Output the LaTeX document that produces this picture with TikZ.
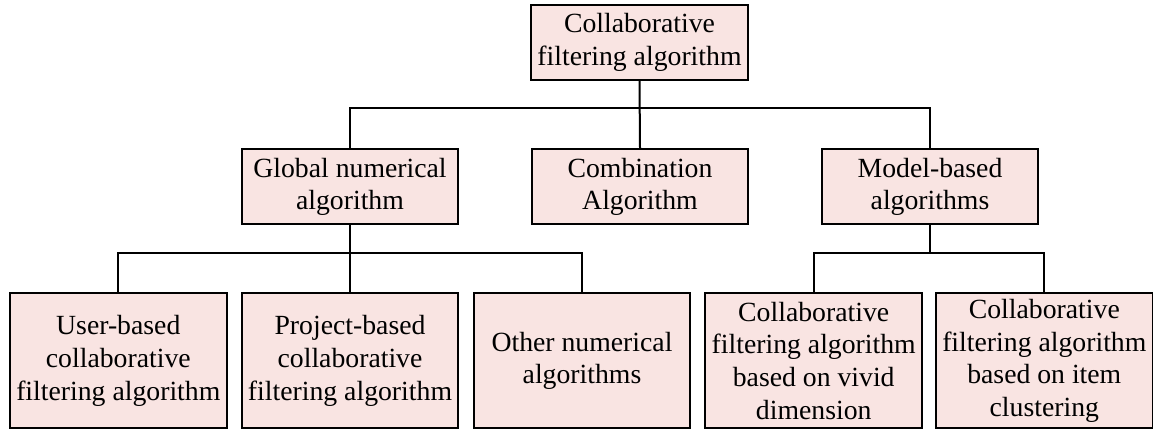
\documentclass[tikz,border=0pt]{standalone}
\usepackage{fontspec}
\setmainfont{Liberation Serif}
\definecolor{boxfill}{RGB}{249,228,226}
\begin{document}
\begin{tikzpicture}[x=0.75pt,y=-0.75pt,
  box/.style={draw=black, fill=boxfill, line width=1.4pt, rectangle,
    minimum width=162.5pt, inner sep=0pt, align=center,
    font=\fontsize{20.8}{24.5}\selectfont},
  shortbox/.style={box, minimum height=56.3pt},
  tallbox/.style={box, minimum height=101.3pt},
  link/.style={draw=black, line width=1.5pt}]
\useasboundingbox (0,0) rectangle (1153,430);

% root
\node[shortbox] (root) at (639.5,42.5) {Collaborative\\filtering algorithm};

% second level
\node[shortbox] (glob)  at (350,186.7) {Global numerical\\algorithm};
\node[shortbox] (comb)  at (640,186.7) {Combination\\Algorithm};
\node[shortbox] (model) at (930,186.7) {Model-based\\algorithms};

% third level
\node[tallbox] (user)  at (118.3,360.8) {User-based\\collaborative\\filtering algorithm};
\node[tallbox] (proj)  at (350,360.8)   {Project-based\\collaborative\\filtering algorithm};
\node[tallbox] (other) at (582,360.8)   {Other numerical\\algorithms};
\node[tallbox] (vivid) at (813.7,360.8) {Collaborative\\filtering algorithm\\based on vivid\\dimension};
\node[tallbox] (item)  at (1044.3,360.8) {Collaborative\\filtering algorithm\\based on item\\clustering};

% junction points of the tree
\coordinate (j1) at (640,108);
\coordinate (j2) at (350,253);
\coordinate (j3) at (930,253);

% connectors
\draw[link] (root.south) -- (comb.north);
\draw[link] (glob.north) |- (j1) -| (model.north);

\draw[link] (glob.south) -- (proj.north);
\draw[link] (user.north) |- (j2) -| (other.north);

\draw[link] (model.south) -- (j3);
\draw[link] (vivid.north) |- (j3) -| (item.north);
\end{tikzpicture}
\end{document}
